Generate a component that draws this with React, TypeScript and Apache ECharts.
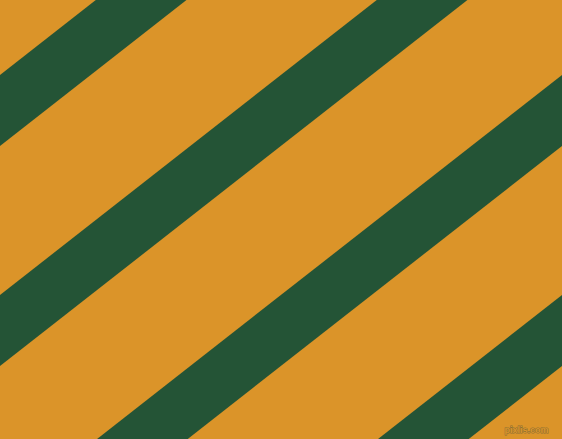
import * as echarts from 'echarts';
import { useEffect, useRef } from 'react';

const WIDTH = 562;
const HEIGHT = 439;

// y where each stripe's upper / lower edge meets the left border (px from top)
const stripeTop = [75, 295, 515, 735];
const stripeBottom = [146, 366, 586, 806];
// edges rise to the right by this much per px
const stripeSlope = 0.783;

const ORANGE = '#DB9429';
const GREEN = '#245436';

const App = () => {
  const chartRef = useRef<HTMLDivElement>(null);

  useEffect(() => {
    document.body.style.margin = '0';
    if (!chartRef.current) return;
    const chart = echarts.init(chartRef.current, undefined, { renderer: 'svg' });

    const data = stripeTop.map((t, i) => [t, stripeBottom[i]]);

    chart.setOption({
      animation: false,
      backgroundColor: ORANGE,
      grid: { left: 0, right: 0, top: 0, bottom: 0 },
      xAxis: { type: 'value', min: 0, max: WIDTH, show: false },
      yAxis: { type: 'value', min: 0, max: HEIGHT, inverse: true, show: false },
      series: [
        {
          type: 'custom',
          data,
          clip: true,
          renderItem: (params: any, api: any) => {
            const top = api.value(0);
            const bottom = api.value(1);
            const drop = stripeSlope * WIDTH;
            const pts = [
              api.coord([0, top]),
              api.coord([WIDTH, top - drop]),
              api.coord([WIDTH, bottom - drop]),
              api.coord([0, bottom]),
            ];
            return {
              type: 'polygon',
              shape: { points: pts },
              style: { fill: GREEN },
            };
          },
        },
      ],
      graphic: [
        {
          type: 'text',
          right: 13,
          bottom: 4,
          style: {
            text: 'pixlis.com',
            font: 'bold 9px "Liberation Sans"',
            fill: ORANGE,
            stroke: '#8C7034',
            lineWidth: 1,
          },
        },
      ],
    });

    return () => {
      chart.dispose();
    };
  }, []);

  return <div ref={chartRef} style={{ width: WIDTH, height: HEIGHT }} />;
};

export default App;
